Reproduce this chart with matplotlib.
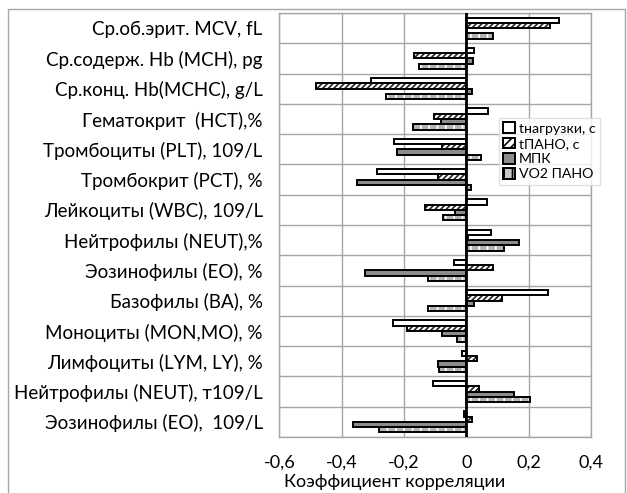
import numpy as np
import matplotlib.pyplot as plt
from matplotlib.patches import Rectangle, Patch

plt.rcParams['font.family'] = ['Lato', 'DejaVu Sans']
plt.rcParams['hatch.linewidth'] = 1.2

categories = [
    'Ср.об.эрит. MCV, fL',
    'Ср.содерж. Hb (MCH), pg',
    'Ср.конц. Hb(MCHC), g/L',
    'Гематокрит  (HCT),%',
    'Тромбоциты (PLT), 109/L',
    'Тромбокрит (PCT), %',
    'Лейкоциты (WBC), 109/L',
    'Нейтрофилы (NEUT),%',
    'Эозинофилы (EO), %',
    'Базофилы (BA), %',
    'Моноциты (MON,MO), %',
    'Лимфоциты (LYM, LY), %',
    'Нейтрофилы (NEUT), т109/L',
    'Эозинофилы (EO),  109/L',
]
series_names = ['tнагрузки, с', 'tПАНО, с', 'МПК', 'VO2 ПАНО']
t_load = [0.297, 0.025, -0.307, 0.069, -0.232, -0.288, 0.067, 0.080, -0.040, 0.262, -0.235, -0.013, -0.107, -0.008]
t_pano = [0.268, -0.168, -0.484, -0.104, -0.077, -0.091, -0.133, 0.004, 0.085, 0.115, -0.190, 0.035, 0.040, 0.017]
mpk = [0.003, 0.022, 0.019, -0.082, -0.222, -0.352, -0.038, 0.170, -0.326, 0.025, -0.077, -0.090, 0.153, -0.363]
vo2_pano = [0.085, -0.152, -0.259, -0.170, 0.046, 0.014, -0.074, 0.121, -0.122, -0.124, -0.031, -0.088, 0.204, -0.281]
xticks = [-0.6, -0.4, -0.2, 0, 0.2, 0.4]
xtick_labels = ['-0,6', '-0,4', '-0,2', '0', '0,2', '0,4']

fig = plt.figure(figsize=(6.27, 4.93), dpi=100)
ax = fig.add_axes([0.4456, 0.1136, 0.497, 0.860])

n = len(categories)
pos = np.arange(n)
h = 0.175
offs = [-1.5 * h, -0.5 * h, 0.5 * h, 1.5 * h]

# t нагрузки - white
ax.barh(pos + offs[0], t_load, height=h, color='white', edgecolor='black', linewidth=1.4, zorder=3)
# t ПАНО - diagonal hatch
ax.barh(pos + offs[1], t_pano, height=h, color='white', edgecolor='#222222', hatch='//////', linewidth=0, zorder=3)
ax.barh(pos + offs[1], t_pano, height=h, fill=False, edgecolor='black', linewidth=1.4, zorder=4)
# МПК - gray
ax.barh(pos + offs[2], mpk, height=h, color='#8c8c8c', edgecolor='black', linewidth=1.4, zorder=3)
# VO2 ПАНО - dashed light gray
ax.barh(pos + offs[3], vo2_pano, height=h, color='#b4b4b4', edgecolor='white', hatch='||', linewidth=0, zorder=3)
ax.barh(pos + offs[3], vo2_pano, height=h, fill=False, edgecolor='black', linewidth=1.4, zorder=4)

ax.set_xlim(-0.6, 0.4)
ax.set_ylim(n - 0.5, -0.5)
ax.set_xticks(xticks)
ax.set_xticklabels(xtick_labels, fontsize=13)
ax.set_yticks(pos)
ax.set_yticklabels(categories, fontsize=13.5)
ax.set_yticks(np.arange(-0.5, n, 1), minor=True)
ax.tick_params(axis='both', which='both', length=0)
ax.tick_params(axis='y', pad=12)
ax.tick_params(axis='x', pad=13)
ax.grid(True, axis='x', color='#a6a6a6', linewidth=1, zorder=0)
ax.grid(True, axis='y', which='minor', color='#a6a6a6', linewidth=1, zorder=0)
for s in ax.spines.values():
    s.set_color('#a6a6a6')
    s.set_linewidth(1)
ax.axvline(0, color='black', linewidth=2, zorder=5)

fig.text(0.63, 0.022, 'Коэффициент корреляции', fontsize=13, ha='center', va='center')

handles = [
    Patch(facecolor='white', edgecolor='black', linewidth=1.4),
    Patch(facecolor='white', edgecolor='black', hatch='////', linewidth=1.4),
    Patch(facecolor='#8c8c8c', edgecolor='black', linewidth=1.4),
    Patch(facecolor='#c8c8c8', edgecolor='black', hatch='||', linewidth=1.4),
]
leg = ax.legend(handles, series_names, loc='upper left', bbox_to_anchor=(0.705, 0.752),
                fontsize=10.2, frameon=True, fancybox=False, handlelength=0.8,
                handleheight=0.8, handletextpad=0.3, borderpad=0.3, labelspacing=0.2,
                borderaxespad=0)
leg.get_frame().set_edgecolor('#d9d9d9')
leg.get_frame().set_linewidth(1)
leg.set_zorder(10)

# outer chart border
fig.patches.append(Rectangle((8 / 627, -0.05), 617 / 627, 1 - 9 / 493 + 0.05,
                             transform=fig.transFigure, fill=False,
                             edgecolor='#a6a6a6', linewidth=1))

fig.savefig('out.png', dpi=100)
